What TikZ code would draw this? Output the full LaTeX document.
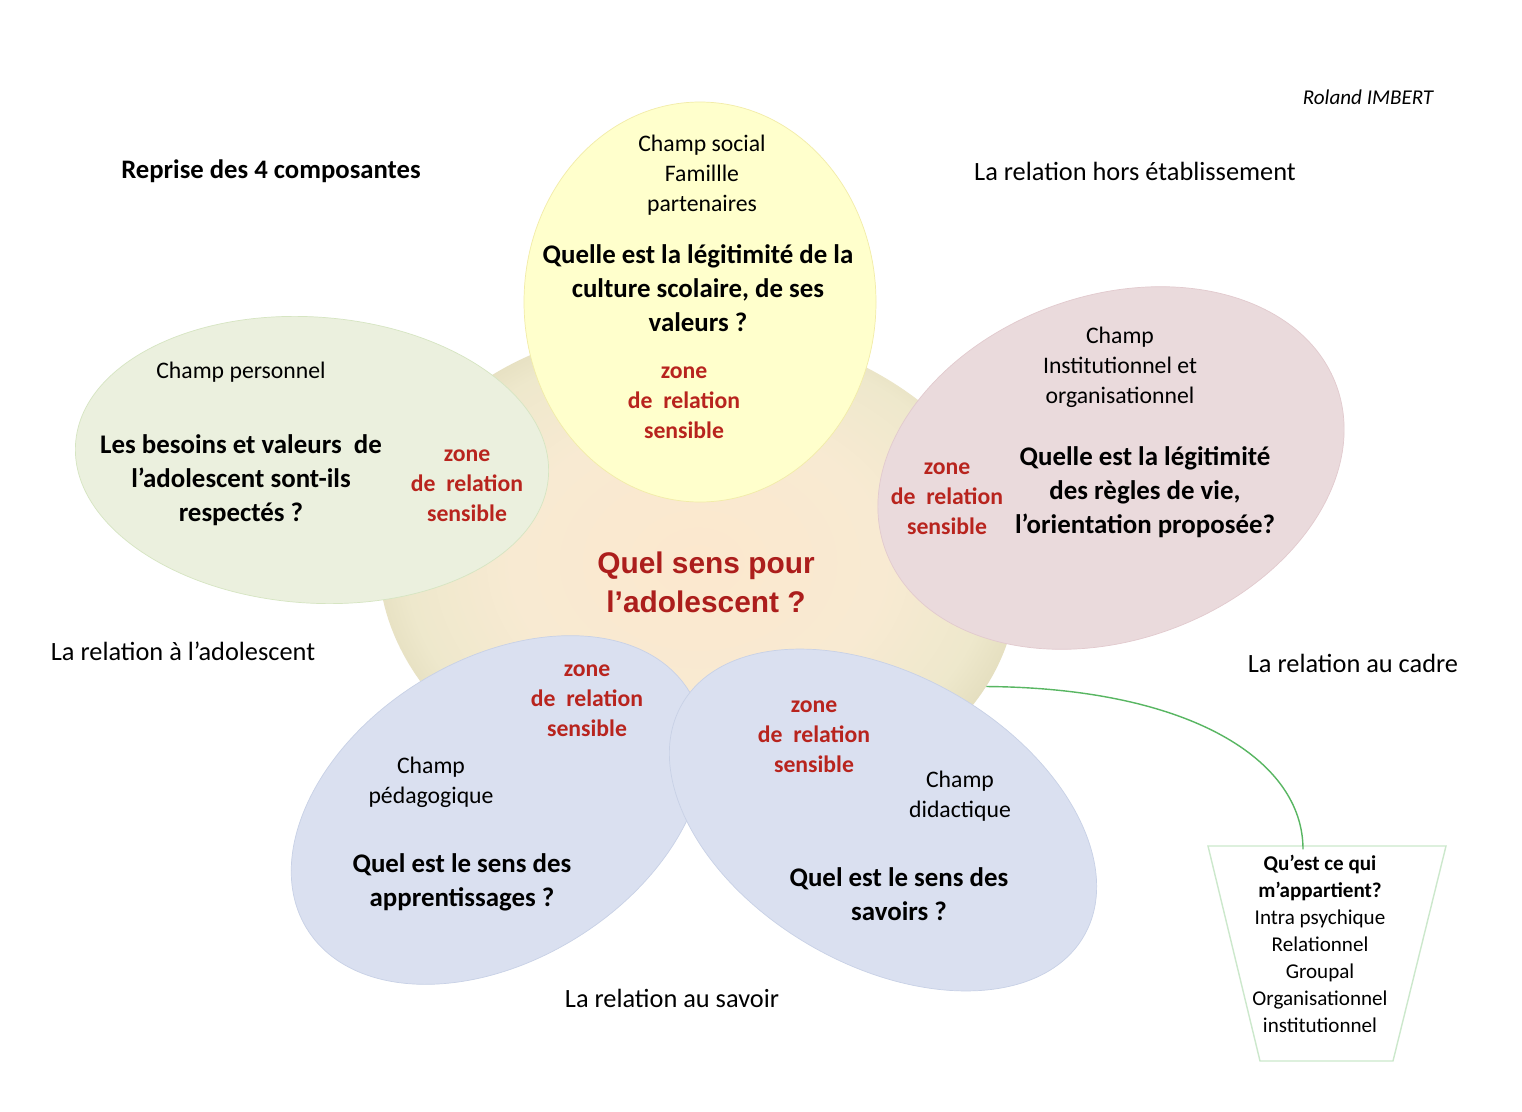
\documentclass[tikz,border=0pt]{standalone}
\usepackage{fontspec}
\setmainfont{Carlito}
\newfontfamily\arialfont{Liberation Sans}
\usetikzlibrary{shapes.geometric}
\definecolor{rougezone}{RGB}{184,36,30}
\definecolor{rougesens}{RGB}{172,30,28}
\definecolor{jaune}{RGB}{255,255,204}
\definecolor{jauneb}{RGB}{242,236,168}
\definecolor{vertp}{RGB}{235,240,222}
\definecolor{vertpb}{RGB}{214,229,194}
\definecolor{vertcadre}{RGB}{204,232,204}
\definecolor{rose}{RGB}{234,218,220}
\definecolor{roseb}{RGB}{226,202,206}
\definecolor{bleu}{RGB}{218,224,240}
\definecolor{bleub}{RGB}{200,209,230}
\definecolor{vertlien}{RGB}{88,182,98}
\definecolor{bouleA}{RGB}{252,232,206}
\definecolor{bouleB}{RGB}{248,234,210}
\definecolor{bouleC}{RGB}{238,232,204}
\definecolor{bouleD}{RGB}{229,223,192}
\pgfdeclareradialshading{boule}{\pgfpoint{0bp}{0bp}}{color(0bp)=(bouleA); color(14bp)=(bouleB); color(22bp)=(bouleC); color(25bp)=(bouleD); color(50bp)=(bouleD)}
\begin{document}
\begin{tikzpicture}[x=0.02cm, y=-0.02cm,
    relation/.style={font=\fontsize{15}{18}\selectfont},
    champ/.style={align=center, font=\fontsize{13.5}{17}\selectfont},
    question/.style={align=center, font=\bfseries\fontsize{15.3}{19.3}\selectfont},
    zone/.style={align=center, text=rougezone, font=\bfseries\fontsize{13.5}{17}\selectfont},
    sens/.style={align=center, text=rougesens, font=\arialfont\bfseries\fontsize{17}{22}\selectfont},
    liste/.style={align=center, inner sep=0pt, font=\fontsize{12}{15.3}\selectfont},
    lien/.style={draw=vertlien, line width=0.8pt}]
    \path[use as bounding box, fill=white] (0,0) rectangle (1522,1112);
    \node[ellipse, minimum width=12.8cm, minimum height=9.8cm, rotate=-5, shading=boule, draw=none] (centre) at (698,570) {};
    \draw[fill=jaune, draw=jauneb] (700,302) ellipse [x radius=176, y radius=200];
    \draw[fill=vertp, draw=vertpb, rotate around={-4:(312,460)}] (312,460) ellipse [x radius=237, y radius=143];
    \draw[fill=rose, draw=roseb, rotate around={20:(1111,468)}] (1111,468) ellipse [x radius=240, y radius=172];
    \draw[fill=bleu, draw=bleub, rotate around={32:(498,810)}] (498,810) ellipse [x radius=225, y radius=150];
    \draw[fill=bleu, draw=bleub, rotate around={-30:(883,820)}] (883,820) ellipse [x radius=232, y radius=145];
    \draw[draw=vertcadre, line width=0.8pt] (1208,846) -- (1446,846) -- (1393,1061) -- (1260,1061) -- cycle;

    \node[font=\itshape\fontsize{12}{14}\selectfont] (auteur) at (1368,97) {Roland IMBERT};
    \node[relation, font=\bfseries\fontsize{15.2}{18}\selectfont] (reprise) at (271,171) {Reprise des 4 composantes};
    \node[relation] (hors) at (1135,171) {La relation hors établissement};
    \node[relation] (ado) at (183,651) {La relation à l’adolescent};
    \node[relation] (cadre) at (1353,663) {La relation au cadre};
    \node[relation] (savoir) at (672,998) {La relation au savoir};

    \node[champ] (social) at (702,175) {Champ social\\Famillle\\partenaires};
    \node[question] (culture) at (698,288) {Quelle est la légitimité de la\\culture scolaire, de ses\\valeurs ?};
    \node[zone] (zoneA) at (684,403) {zone\\de\ \ relation\\sensible};

    \node[champ] (perso) at (241,372) {Champ personnel};
    \node[question] (besoins) at (241,480) {Les besoins et valeurs\ \ de\\l’adolescent sont-ils\\respectés ?};
    \node[zone] (zoneB) at (467,486) {zone\\de\ \ relation\\sensible};

    \node[champ] (instit) at (1120,367) {Champ\\Institutionnel et\\organisationnel};
    \node[question] (regles) at (1145,492) {Quelle est la légitimité\\des règles de vie,\\l’orientation proposée?};
    \node[zone] (zoneC) at (947,499) {zone\\de\ \ relation\\sensible};

    \node[sens] (quelsens) at (706,582) {Quel sens pour\\l’adolescent ?};

    \node[zone] (zoneD) at (587,701) {zone\\de\ \ relation\\sensible};
    \node[champ] (pedago) at (431,782) {Champ\\pédagogique};
    \node[question] (apprent) at (462,882) {Quel est le sens des\\apprentissages ?};

    \node[zone] (zoneE) at (814,737) {zone\\de\ \ relation\\sensible};
    \node[champ] (didact) at (960,796) {Champ\\didactique};
    \node[question] (savoirs) at (899,894) {Quel est le sens des\\savoirs ?};

    \node[liste] (appart) at (1320,944) {\textbf{Qu’est ce qui}\\\textbf{m’appartient?}\\Intra psychique\\Relationnel\\Groupal\\Organisationnel\\institutionnel};
    \draw[lien] (centre.-17) .. controls (1190,688) and (1303,760) .. ([xshift=-0.34cm, yshift=0.12cm]appart.north);
\end{tikzpicture}
\end{document}
